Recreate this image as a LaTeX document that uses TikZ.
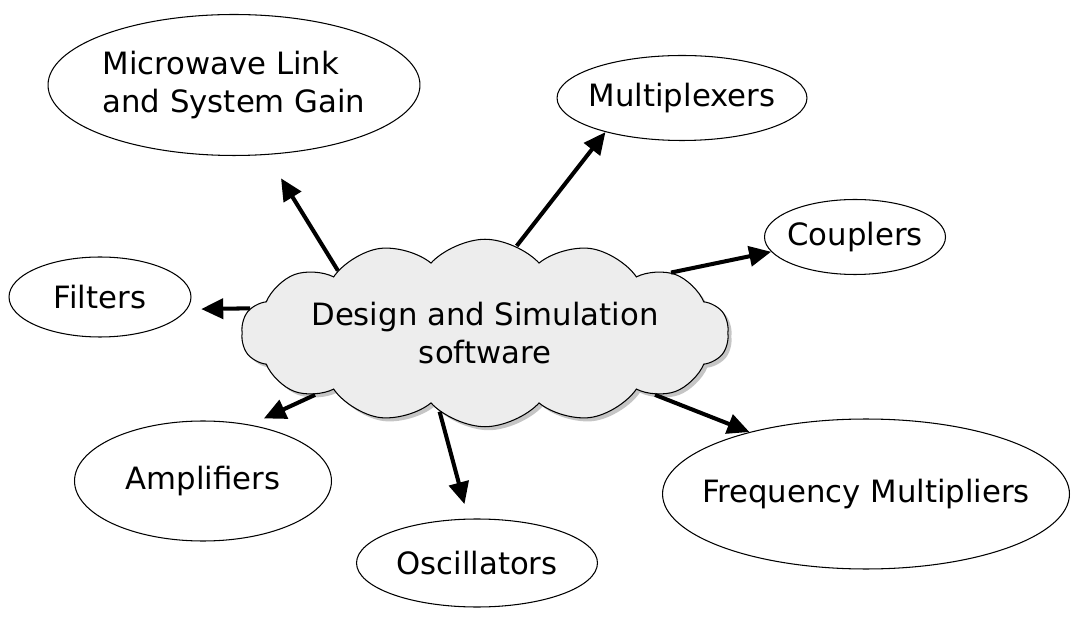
\documentclass[tikz,border=0pt]{standalone}
\usepackage{fontspec}
\setmainfont{DejaVu Sans}
\usetikzlibrary{arrows.meta,shapes.geometric,shapes.symbols,shadows}
\newcommand{\topicfont}{\fontsize{17.5}{22}\selectfont}

\begin{document}
\begin{tikzpicture}[x=0.02cm, y=-0.02cm,
  topic/.style={ellipse, draw, line width=0.6pt, align=center,
                font=\topicfont, inner sep=-1cm},
  hub/.style={cloud, cloud puffs=14, cloud puff arc=95, cloud ignores aspect,
              draw, line width=0.6pt, fill=black!7, align=center, font=\topicfont,
              minimum width=9.3cm, minimum height=3.75cm, inner sep=0pt,
              drop shadow={shadow xshift=2pt, shadow yshift=-2pt, fill=black!45}},
  arr/.style={-{Triangle[length=0.44cm,width=0.4cm]}, line width=2.3pt}
]
  \useasboundingbox (0,0) rectangle (1077,617);

  % central tool
  \node[hub] (tool) at (485,333) {Design and Simulation\\software};

  % application areas
  \node[topic, align=left, minimum width=7.44cm, minimum height=2.82cm] (link) at (234,85)
        {Microwave Link\\and System Gain};
  \node[topic, minimum width=5cm, minimum height=1.7cm] (mux) at (682,98) {Multiplexers};
  \node[topic, minimum width=3.62cm, minimum height=1.5cm] (coup) at (855,237) {Couplers};
  \node[topic, minimum width=3.64cm, minimum height=1.6cm] (filt) at (100,297) {Filters};
  \node[topic, minimum width=5.14cm, minimum height=2.4cm] (amp) at (203,481) {Amplifiers};
  \node[topic, minimum width=4.82cm, minimum height=1.76cm] (osc) at (477,563) {Oscillators};
  \node[topic, minimum width=8.14cm, minimum height=3cm] (fmult) at (866,494)
        {Frequency Multipliers};

  \draw[arr, shorten >=0.55cm] (tool.157) -- (link.-65);
  \draw[arr, shorten >=0.28cm] (tool.174) -- (filt.-8);
  \draw[arr] (tool.70) -- (mux.204);
  \draw[arr] (tool.18) -- (coup.190);
  \draw[arr, shorten >=0.3cm] (tool.200) -- (amp.50);
  \draw[arr, shorten >=0.3cm] (tool.240) -- (osc.101);
  \draw[arr] (tool.340) -- (fmult.152);
\end{tikzpicture}
\end{document}
